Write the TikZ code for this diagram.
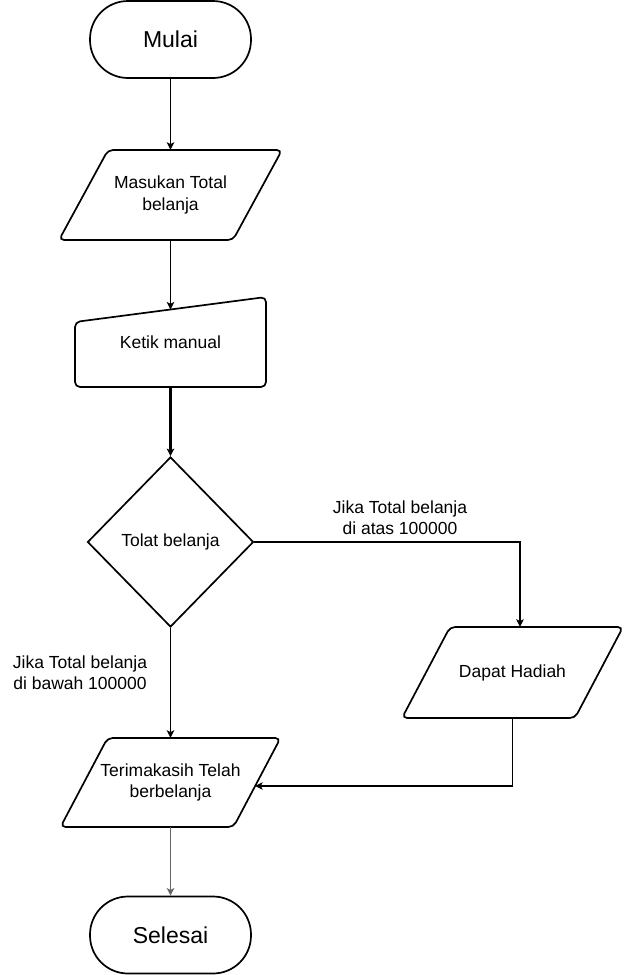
\documentclass[tikz,border=0pt]{standalone}
\usepackage{fontspec}
\setmainfont{Liberation Sans}
\usetikzlibrary{shapes.geometric,arrows.meta}
\begin{document}
\begin{tikzpicture}[x=1bp,y=-1bp,
  outline/.style={draw, line width=1.7bp, rounded corners=5bp},
  term/.style={draw, line width=1.7bp, rectangle, rounded corners=38bp,
    minimum width=161bp, minimum height=77bp, inner sep=0pt,
    font=\fontsize{23bp}{27bp}\selectfont},
  txt/.style={font=\fontsize{17.5bp}{21.5bp}\selectfont, align=center, inner sep=0pt},
  boxarea/.style={txt, rectangle, minimum width=#1},
  conn/.style={line width=1.5bp, -{Stealth[length=7.5bp,width=7.5bp,inset=1.8bp]}},
  thickconn/.style={conn, line width=2.1bp},
  thinconn/.style={conn, line width=1.2bp},
  grayconn/.style={conn, draw=gray!80!black}
]
\useasboundingbox (0,0) rectangle (627,975);

% Start
\node[term] (mulai) at (170.5,39.5) {Mulai};

% Input: Masukan Total belanja
\draw[outline] (108,150) -- (282,150) -- (233,240) -- (59,240) -- cycle;
\node[boxarea=222bp, minimum height=90bp] (masukan) at (170.5,195) {Masukan Total\\belanja};

% Manual input
\draw[outline] (75,322) -- (266,297) -- (266,387) -- (75,387) -- cycle;
\path (75,322) -- coordinate[pos=0.5] (ketiktop) (266,297);
\node[boxarea=191bp, minimum height=90bp] (ketik) at (170.5,342) {Ketik manual};

% Decision
\node[diamond, draw, line width=1.7bp, minimum width=166bp, minimum height=170bp,
  inner sep=0pt, font=\fontsize{17.5bp}{21bp}\selectfont] (tolat) at (170.5,542) {Tolat belanja};

% Dapat Hadiah
\draw[outline] (450,627) -- (623,627) -- (575,718) -- (402,718) -- cycle;
\node[boxarea=221bp, minimum height=91bp] (dapat) at (512.5,672.5) {Dapat Hadiah};

% Terimakasih
\draw[outline] (107.5,738) -- (280.5,738) -- (233.5,827) -- (60.5,827) -- cycle;
\path (280.5,738) -- coordinate[pos=0.539] (terimaR) (233.5,827);
\node[boxarea=220bp, minimum height=89bp] (terima) at (170.5,782.5) {Terimakasih Telah\\berbelanja};

% End
\node[term] (selesai) at (170.5,935) {Selesai};

% Labels
\node[txt] (lblatas) at (400,517.5) {Jika Total belanja\\di atas 100000};
\node[txt] (lblbawah) at (80,672.5) {Jika Total belanja\\di bawah 100000};

% Connectors
\draw[conn] (mulai.south) -- (masukan.north);
\draw[conn] (masukan.south) -- (ketiktop);
\draw[thickconn] (ketik.south) -- (tolat.north);
\draw[thinconn] (tolat.east) -| ([xshift=7.5bp]dapat.north);
\draw[conn] (tolat.south) -- (terima.north);
\draw[thinconn] (dapat.south) |- (terimaR);
\draw[grayconn] (terima.south) -- (selesai.north);
\end{tikzpicture}
\end{document}
